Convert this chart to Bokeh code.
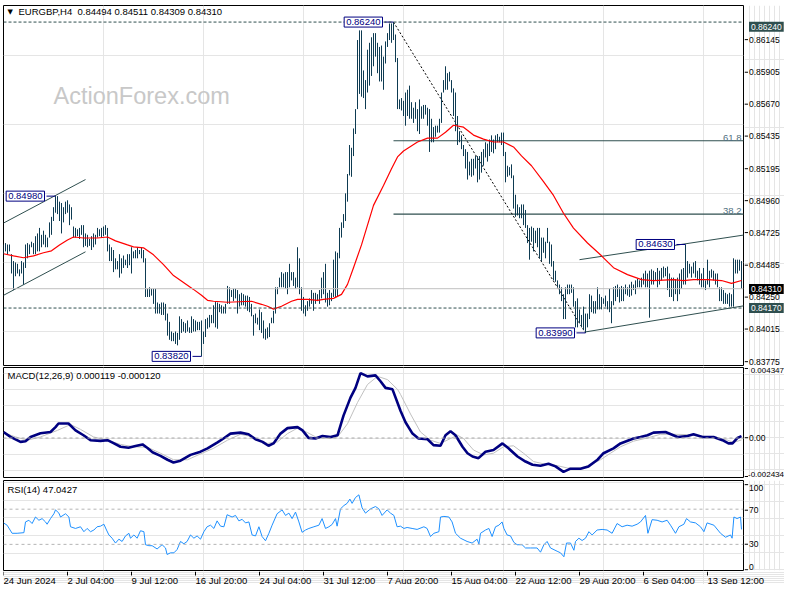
from bokeh.plotting import figure
from bokeh.models import Range1d, Label, Span
from bokeh.layouts import column, row
from bokeh.embed import file_html
from bokeh.resources import INLINE

# ---------------------------------------------------------------- data
symbol = "EURGBP,H4"
last_ohlc = ["0.84494", "0.84511", "0.84309", "0.84310"]
PIP = 0.0001

# H4 bars, high / low in pips (0.0001), bar index 0 = 24 Jun 2024 00:00
bar_high = [
    8463, 8464, 8463, 8463, 8456, 8451, 8450, 8449, 8445, 8451,
    8450, 8463, 8464, 8463, 8465, 8464, 8469, 8471, 8475, 8470,
    8473, 8470, 8468, 8479, 8483, 8490, 8498, 8498, 8494, 8493,
    8490, 8494, 8495, 8492, 8490, 8476, 8475, 8474, 8475, 8477,
    8477, 8471, 8470, 8467, 8469, 8471, 8470, 8475, 8474, 8475,
    8476, 8477, 8475, 8463, 8461, 8459, 8453, 8451, 8456, 8453,
    8455, 8452, 8456, 8456, 8461, 8458, 8459, 8461, 8459, 8461,
    8459, 8453, 8431, 8432, 8431, 8431, 8431, 8421, 8420, 8421,
    8421, 8420, 8413, 8407, 8400, 8399, 8400, 8399, 8411, 8409,
    8407, 8406, 8408, 8403, 8411, 8409, 8408, 8407, 8407, 8408,
    8400, 8409, 8410, 8412, 8412, 8419, 8422, 8421, 8420, 8419,
    8418, 8420, 8433, 8432, 8430, 8431, 8431, 8430, 8427, 8428,
    8427, 8426, 8426, 8425, 8420, 8412, 8413, 8410, 8416, 8414,
    8408, 8402, 8403, 8406, 8410, 8415, 8432, 8432, 8439, 8443,
    8442, 8443, 8443, 8449, 8443, 8443, 8439, 8461, 8453, 8432,
    8425, 8419, 8422, 8424, 8430, 8428, 8428, 8427, 8430, 8439,
    8443, 8449, 8428, 8430, 8428, 8452, 8458, 8457, 8475, 8479,
    8485, 8500, 8514, 8535, 8533, 8547, 8561, 8611, 8618, 8618,
    8589, 8582, 8604, 8609, 8613, 8616, 8616, 8609, 8606, 8607,
    8599, 8610, 8616, 8623, 8623, 8624, 8615, 8598, 8568, 8569,
    8567, 8573, 8575, 8578, 8566, 8562, 8566, 8561, 8568, 8563,
    8564, 8564, 8562, 8561, 8554, 8548, 8549, 8549, 8554, 8573,
    8582, 8592, 8587, 8588, 8582, 8576, 8573, 8556, 8545, 8542,
    8535, 8532, 8530, 8523, 8525, 8525, 8527, 8527, 8527, 8530,
    8532, 8537, 8536, 8539, 8542, 8539, 8542, 8543, 8541, 8544,
    8544, 8530, 8520, 8519, 8521, 8513, 8499, 8492, 8490, 8492,
    8492, 8488, 8477, 8475, 8476, 8475, 8473, 8475, 8475, 8468,
    8468, 8465, 8475, 8465, 8463, 8451, 8444, 8437, 8434, 8432,
    8427, 8432, 8434, 8434, 8434, 8432, 8422, 8424, 8416, 8412,
    8418, 8413, 8413, 8427, 8426, 8422, 8422, 8432, 8427, 8425,
    8424, 8426, 8422, 8431, 8422, 8432, 8433, 8434, 8432, 8433,
    8432, 8434, 8432, 8434, 8436, 8434, 8437, 8438, 8437, 8439,
    8442, 8444, 8442, 8444, 8445, 8444, 8443, 8446, 8444, 8446,
    8447, 8446, 8447, 8442, 8439, 8439, 8438, 8439, 8442, 8445,
    8446, 8463, 8451, 8449, 8447, 8450, 8451, 8444, 8446, 8442,
    8446, 8437, 8452, 8444, 8445, 8444, 8442, 8442, 8432, 8432,
    8430, 8428, 8427, 8428, 8427, 8453, 8452, 8452, 8452, 8451,
]
bar_low = [
    8456, 8458, 8456, 8458, 8442, 8430, 8440, 8442, 8440, 8442,
    8434, 8446, 8453, 8456, 8461, 8456, 8456, 8458, 8458, 8461,
    8463, 8461, 8461, 8468, 8470, 8480, 8486, 8485, 8480, 8471,
    8479, 8485, 8486, 8477, 8481, 8468, 8468, 8469, 8467, 8470,
    8461, 8462, 8461, 8462, 8459, 8461, 8463, 8468, 8469, 8468,
    8469, 8470, 8458, 8451, 8451, 8443, 8445, 8445, 8439, 8442,
    8446, 8448, 8446, 8448, 8442, 8453, 8453, 8453, 8456, 8453,
    8450, 8425, 8425, 8425, 8426, 8420, 8413, 8413, 8413, 8412,
    8412, 8408, 8397, 8394, 8393, 8393, 8391, 8390, 8394, 8399,
    8400, 8399, 8400, 8399, 8399, 8400, 8400, 8401, 8401, 8382,
    8391, 8396, 8402, 8403, 8406, 8406, 8403, 8402, 8414, 8413,
    8413, 8413, 8420, 8420, 8425, 8422, 8424, 8413, 8418, 8419,
    8419, 8418, 8415, 8414, 8411, 8397, 8406, 8405, 8401, 8399,
    8395, 8394, 8395, 8396, 8406, 8406, 8413, 8427, 8432, 8432,
    8432, 8431, 8427, 8432, 8437, 8433, 8431, 8432, 8427, 8415,
    8413, 8411, 8415, 8418, 8420, 8415, 8420, 8422, 8420, 8424,
    8427, 8421, 8418, 8419, 8422, 8425, 8425, 8425, 8453, 8468,
    8475, 8480, 8494, 8513, 8512, 8527, 8543, 8561, 8572, 8570,
    8569, 8561, 8573, 8578, 8585, 8592, 8599, 8587, 8581, 8581,
    8575, 8594, 8606, 8611, 8609, 8611, 8595, 8561, 8561, 8560,
    8556, 8549, 8556, 8554, 8554, 8551, 8554, 8545, 8543, 8554,
    8554, 8557, 8549, 8530, 8537, 8537, 8541, 8544, 8544, 8551,
    8573, 8575, 8575, 8581, 8573, 8556, 8545, 8535, 8537, 8532,
    8527, 8518, 8510, 8513, 8512, 8513, 8518, 8508, 8510, 8515,
    8520, 8526, 8523, 8527, 8530, 8529, 8532, 8537, 8537, 8535,
    8527, 8508, 8512, 8513, 8511, 8489, 8483, 8484, 8482, 8482,
    8477, 8475, 8464, 8452, 8465, 8458, 8464, 8461, 8453, 8451,
    8457, 8453, 8464, 8449, 8447, 8437, 8436, 8432, 8427, 8422,
    8409, 8409, 8427, 8427, 8428, 8418, 8403, 8403, 8406, 8403,
    8401, 8399, 8403, 8409, 8414, 8413, 8413, 8416, 8416, 8416,
    8420, 8418, 8416, 8414, 8406, 8419, 8422, 8425, 8421, 8422,
    8422, 8427, 8426, 8425, 8426, 8430, 8427, 8432, 8432, 8432,
    8434, 8432, 8432, 8410, 8434, 8434, 8437, 8432, 8434, 8437,
    8439, 8440, 8430, 8425, 8425, 8422, 8427, 8422, 8427, 8431,
    8434, 8434, 8439, 8442, 8439, 8442, 8439, 8437, 8434, 8432,
    8432, 8430, 8434, 8432, 8439, 8437, 8434, 8432, 8422, 8422,
    8420, 8420, 8420, 8418, 8418, 8418, 8442, 8442, 8444, 8431,
]

# red moving average, sampled (bar index, pips)
ma_idx = [0, 5, 10, 15, 20, 24, 28, 32, 35, 40, 47, 52, 56, 62, 65, 70, 75, 80,
          85, 90, 95, 99, 102, 105, 112, 124, 129, 132, 135, 139, 144, 147, 152,
          157, 160, 165, 169, 172, 175, 179, 182, 185, 190, 194, 197, 200, 207,
          212, 217, 221, 225, 230, 235, 240, 245, 250, 255, 259, 264, 270, 275,
          280, 285, 292, 299, 305, 312, 319, 325, 335, 340, 345, 352, 359, 364, 369]
ma_pips = [8456.3, 8454.8, 8453.4, 8454.8, 8457.0, 8458.4, 8462.7, 8466.3, 8468.4,
           8467.7, 8467.7, 8468.4, 8465.6, 8462.7, 8461.3, 8460.6, 8455.5, 8448.4,
           8440.5, 8435.5, 8430.5, 8426.2, 8422.6, 8421.9, 8421.2, 8421.9, 8419.7,
           8418.3, 8416.2, 8418.3, 8421.9, 8423.3, 8423.3, 8422.6, 8423.3, 8424.0,
           8426.9, 8434.1, 8446.2, 8462.7, 8477.0, 8491.3, 8505.7, 8517.8, 8526.4,
           8530.7, 8537.2, 8540.0, 8540.0, 8544.3, 8549.3, 8547.9, 8542.2, 8539.3,
           8537.2, 8537.2, 8533.6, 8527.1, 8520.0, 8508.5, 8498.5, 8485.6, 8474.9,
           8464.1, 8454.8, 8446.2, 8441.2, 8437.6, 8436.9, 8437.6, 8436.9, 8437.6,
           8437.6, 8436.9, 8434.8, 8436.9]

# MACD (units of 1e-4)
macd_idx = [0, 3.5, 8.5, 11, 13.5, 18.5, 23.5, 26, 27.5, 32.5, 36, 40, 43.5, 48.5,
            52, 55, 58.5, 62.5, 66, 69.5, 72, 74.5, 78.5, 82, 85, 88.5, 93.5, 98.5,
            102, 107, 110, 113.5, 118.5, 122.5, 126, 129.5, 132.5, 135, 138.5, 142,
            147, 149.5, 152.5, 156, 159.5, 163.5, 167, 170, 173.5, 176, 178.5, 182,
            186, 188.5, 191, 194.5, 198.5, 201, 204.5, 207.5, 212, 215, 218.5, 221,
            223.5, 226, 229.5, 232, 234.5, 237.5, 241, 245, 249.5, 252.5, 257, 261,
            264.5, 268.5, 272.5, 276, 280, 283.5, 288.5, 292.5, 297, 300, 305, 308.5,
            315, 318.5, 322, 325, 331, 337, 342, 345, 349.5, 355, 359.5, 362.5,
            364.5, 367, 369]
macd_e4 = [3.69, 0.67, -2.36, -1.94, 0.67, 2.91, 3.69, 6.72, 8.96, 8.96, 4.72, 1.70,
           -1.33, -1.76, -1.33, -3.15, -5.39, -5.99, -4.96, -3.94, -6.18, -8.78,
           -11.0, -13.4, -15.1, -14.0, -10.4, -8.42, -6.36, -2.72, -0.30, 2.72, 3.33,
           2.30, -0.73, -2.36, -4.78, -3.33, 2.72, 6.11, 6.72, 4.72, 0.06, -0.30, 1.27,
           0.67, 1.70, 13.8, 24.9, 30.9, 40.0, 38.0, 38.6, 35.0, 30.9, 30.0, 16.8,
           9.75, 2.72, -0.30, -0.73, -4.36, -4.78, 1.70, 4.12, 1.70, -5.39, -9.38,
           -11.4, -12.4, -8.42, -7.39, -3.33, -6.36, -11.4, -14.5, -16.5, -17.1,
           -15.9, -17.5, -20.9, -18.9, -18.9, -17.5, -13.4, -9.38, -6.36, -3.33,
           -0.30, 0.67, 1.70, 3.33, 3.69, 0.67, 1.27, 2.30, 0.67, 0.67, -1.33, -3.33,
           -3.33, 0.06, 1.19]
signal_idx = [0, 6, 12, 18.5, 27, 33.5, 38.5, 45, 52, 58.5, 65, 72, 78.5, 85, 92,
              98.5, 105, 112, 118.5, 125, 132, 137, 142, 147, 152, 157, 163.5, 167,
              172, 177, 182, 187, 192, 197, 198.5, 203.5, 208.5, 213.5, 218.5, 223.5,
              227, 230, 235, 240, 245, 250, 255, 260, 265, 270, 275, 282, 288.5,
              293.5, 298.5, 303.5, 308.5, 315, 322, 328.5, 335, 342, 348.5, 355, 362,
              365, 369]
signal_e4 = [3.33, 0.67, -1.33, 0.67, 4.72, 8.35, 5.33, 0.67, -1.33, -3.94, -5.39,
             -5.75, -9.38, -13.4, -13.4, -9.81, -6.36, -1.33, 2.30, 0.67, -3.33, -2.36,
             2.72, 6.11, 3.33, 0.06, -0.30, 0.67, 8.78, 21.9, 33.0, 38.0, 36.0, 30.0,
             26.9, 14.8, 3.69, -1.33, -3.33, -0.30, 1.70, -0.30, -7.39, -10.4, -9.38,
             -5.39, -4.78, -9.38, -14.5, -15.9, -16.5, -18.5, -18.5, -16.5, -13.4,
             -9.38, -5.39, -1.94, 0.06, 2.30, 2.30, 2.12, 1.09, 0.67, -1.33, -2.72,
             -1.20]
macd_title = "MACD(12,26,9) 0.000119 -0.000120"

# RSI(14)
rsi_idx = [0, 1.8, 4.3, 6.8, 10.2, 11, 12.7, 14.3, 16, 17.7, 19.3, 21, 21.8, 23.5,
           25.2, 26, 27.7, 28.5, 31, 32.7, 33.5, 36, 38.5, 40.2, 41.8, 43.5, 45.2,
           46.8, 48.5, 50.2, 51.5, 52.7, 54.3, 56, 57.7, 59.3, 61, 62.7, 63.5, 65.2,
           66.8, 68.5, 70.2, 71, 72.7, 74.3, 76.8, 79.3, 81, 81.8, 83.5, 85.2, 86.8,
           88.5, 90.2, 91.8, 93.5, 95.2, 96.8, 98.5, 100.2, 101.8, 103.5, 105.2,
           106.8, 108.5, 110.2, 111.8, 114.3, 116, 117.7, 119.3, 121, 122.7, 124.3,
           126, 127.7, 129.3, 131, 132.7, 134.3, 136.8, 139.3, 141, 142.7, 144.3,
           146, 147.7, 149.3, 151, 152.7, 155.2, 157.7, 159.3, 161, 162.7, 164.3,
           166, 166.8, 168.5, 170.2, 171.8, 173.2, 174.3, 176, 177.7, 179.3, 181,
           183.5, 186, 187.7, 189.3, 191.8, 193.5, 195.2, 196.8, 198.5, 200.2,
           201.8, 204.3, 206.8, 210.2, 211.8, 213.5, 215.2, 217.7, 218.5, 220.2,
           222.7, 224.3, 226, 228.5, 231.8, 234.3, 236.8, 237.7, 238.5, 241, 242.7,
           244.3, 246, 247.7, 249.3, 250.2, 251.8, 253.5, 255.2, 256.8, 259.3, 261,
           263.5, 266.8, 268.5, 270.2, 271.8, 273.5, 276.8, 278.5, 280.2, 281.5,
           283.5, 285.2, 286, 287.7, 289.3, 291, 292.7, 294.3, 296.8, 299.3, 301.8,
           304.3, 306.8, 309.3, 311.8, 314.3, 316.8, 318.5, 321, 322.2, 324.3,
           326.8, 329.3, 331.8, 333.5, 336, 337.7, 340.2, 341.5, 343.5, 346, 348.5,
           350.2, 351.8, 355.2, 358.5, 361, 363.5, 364.3, 365.2, 366.8, 368.5, 369]
rsi_val = [54.4, 51.8, 42.6, 42.6, 43.3, 55.5, 57.4, 53.7, 61.1, 57.4, 59.3, 55.5,
           52.9, 59.3, 64.8, 69.2, 65.5, 61.1, 64.8, 61.1, 50.0, 48.1, 50.0, 44.4,
           48.1, 44.4, 46.3, 50.0, 50.7, 52.9, 46.3, 40.7, 37.0, 31.5, 35.9, 33.3,
           39.6, 42.6, 37.0, 40.7, 37.0, 45.5, 44.4, 29.6, 28.5, 28.5, 24.8, 29.6,
           25.9, 18.5, 20.4, 20.4, 24.1, 33.3, 30.7, 33.3, 40.7, 37.0, 39.6, 35.9,
           44.4, 50.0, 51.8, 48.1, 56.7, 50.7, 50.0, 63.7, 61.1, 62.9, 56.7, 58.5,
           54.4, 55.5, 40.7, 39.6, 50.0, 38.9, 34.1, 42.6, 51.8, 64.8, 69.2, 62.9,
           65.5, 59.3, 66.7, 55.5, 43.7, 46.3, 48.1, 50.0, 51.8, 59.3, 48.1, 50.0,
           52.6, 59.3, 50.7, 70.4, 74.1, 76.6, 81.5, 76.6, 83.3, 86.3, 71.5, 65.5,
           70.4, 73.0, 70.4, 62.9, 69.2, 65.5, 62.9, 50.0, 50.7, 48.1, 49.2, 48.1,
           47.0, 50.0, 48.1, 38.9, 42.6, 44.4, 61.1, 61.8, 61.1, 55.5, 42.6, 37.0,
           33.3, 31.5, 35.9, 30.4, 42.6, 46.3, 48.1, 38.9, 50.0, 51.8, 55.5, 48.1,
           40.7, 39.6, 32.2, 29.6, 29.6, 25.9, 25.9, 25.9, 21.1, 29.6, 33.3, 25.9,
           22.2, 20.4, 15.9, 31.5, 31.5, 23.3, 33.3, 37.0, 34.4, 37.0, 44.4, 40.7,
           46.3, 47.0, 46.3, 42.6, 53.7, 50.0, 51.8, 50.7, 52.9, 55.5, 62.9, 42.6,
           58.1, 57.4, 55.5, 57.4, 51.8, 42.6, 50.0, 52.9, 59.3, 55.5, 54.4, 50.0,
           44.4, 54.4, 51.8, 42.6, 38.1, 40.7, 37.0, 61.1, 59.3, 61.1, 47.0]
rsi_title = "RSI(14) 47.0427"

# time axis
date_idx = [0, 32, 64, 96, 128, 160, 192, 224, 256, 288, 320, 352]
date_labels = ["24 Jun 2024", "2 Jul 04:00", "9 Jul 12:00", "16 Jul 20:00",
               "24 Jul 04:00", "31 Jul 12:00", "7 Aug 20:00", "15 Aug 04:00",
               "22 Aug 12:00", "29 Aug 20:00", "6 Sep 04:00", "13 Sep 12:00"]

# price scale
price_ticks = [0.86145, 0.85905, 0.85670, 0.85435, 0.85195, 0.84960,
               0.84725, 0.84485, 0.84250, 0.84015, 0.83775]
macd_ticks = [0.004347, 0.0, -0.002434]
macd_tick_labels = ["0.004347", "0.00", "-0.002434"]
rsi_ticks = [100, 70, 30, 0]

# marked swing points
swing_idx = [26, 99, 195, 291, 341]
swing_price = [0.84980, 0.83820, 0.86240, 0.83990, 0.84630]

level_high = 0.86240
level_low = 0.84170
last_price = 0.84310

fib_start_idx = 195
fib_levels = [0.85381, 0.84850]
fib_names = ["61.8", "38.2"]

# trend lines: (bar indices, prices)
chan1_upper = ([0, 41], [0.84785, 0.85100])
chan1_lower = ([0, 41], [0.84262, 0.84577])
chan2_upper = ([288, 376], [0.84520, 0.84711])
chan2_lower = ([291, 376], [0.83997, 0.84200])
down_line = ([195, 291], [0.86240, 0.83990])

# ---------------------------------------------------------------- style
TOTAL_W = 784
LEFT = 3
FW = 740                      # frame width: 2 px per bar
PW = LEFT + FW + 1            # width of each panel figure
AW = TOTAL_W - PW             # width of the right price-scale strip
FONT = "Liberation Sans"
FS = "9.5px"
AXFS = "8.5px"
AXX = 4.5
BAR = "#0e3b52"
SLATE = "#2f4f4f"
NAVY = "#000080"

xr = Range1d(0, FW / 2)


def make_fig(top, fh, bottom, y0, y1):
    return figure(width=PW, height=top + fh + bottom, x_range=xr,
                  y_range=Range1d(y0, y1), title=None,
                  x_axis_location=None, y_axis_location=None,
                  output_backend="svg", toolbar_location=None,
                  min_border_left=LEFT, min_border_right=1,
                  min_border_top=top, min_border_bottom=bottom,
                  background_fill_color="white", border_fill_color="white",
                  outline_line_color="black", outline_line_width=1)


def make_strip(top, fh, bottom, y0, y1):
    s = (y1 - y0) / fh
    return figure(width=AW, height=top + fh + bottom, x_range=Range1d(0, AW),
                  y_range=Range1d(y0 - bottom * s, y1 + top * s), title=None,
                  x_axis_location=None, y_axis_location=None,
                  output_backend="svg", toolbar_location=None,
                  min_border_left=0, min_border_right=0,
                  min_border_top=0, min_border_bottom=0,
                  background_fill_color="white", border_fill_color="white",
                  outline_line_color=None)


def txt(p, x, y, text, xu="screen", yu="data", align="left", base="middle",
        size=FS, color="black", font=FONT, **kw):
    p.add_layout(Label(x=x, y=y, x_units=xu, y_units=yu, text=text,
                       text_align=align, text_baseline=base, text_font=font,
                       text_font_size=size, text_color=color, **kw))


def scale_ticks(a, ticks):
    a.segment(x0=[0] * len(ticks), x1=[3.5] * len(ticks), y0=ticks, y1=ticks,
              line_color="black", line_width=1)


# ---------------------------------------------------------------- main panel
T1, FH1, B1 = 5, 360, 1
Y1 = (0.83754, 0.86360)
p1 = make_fig(T1, FH1, B1, *Y1)
a1 = make_strip(T1, FH1, B1, *Y1)

txt(p1, 50, FH1 - 90, "ActionForex.com", yu="screen", size="23.5px",
    color="#c8c8c8", level="underlay")
txt(p1, 4, FH1 - 6, "\u25bc", yu="screen", size="7px", font="DejaVu Sans")
txt(p1, 15, FH1 - 6, symbol, yu="screen")
txt(p1, 74, FH1 - 6, " ".join(last_ohlc), yu="screen")

p1.add_layout(Span(location=level_high, dimension="width", line_color=SLATE,
                   line_dash="3 2", line_width=1))
p1.add_layout(Span(location=level_low, dimension="width", line_color=SLATE,
                   line_dash="3 2", line_width=1))
p1.add_layout(Span(location=last_price, dimension="width", line_color="#c0c0c0",
                   line_width=1))

for lvl, name in zip(fib_levels, fib_names):
    p1.segment(x0=[fib_start_idx], x1=[400], y0=[lvl], y1=[lvl],
               line_color=SLATE, line_width=1.2)
    txt(p1, FW - 2, lvl, name, align="right", base="bottom", color="#4f6f80")

for xs, ys in (chan1_upper, chan1_lower, chan2_upper, chan2_lower):
    p1.line(xs, ys, line_color=SLATE, line_width=1)
p1.line(down_line[0], down_line[1], line_color="black", line_dash="2 2",
        line_width=1)

idx = list(range(len(bar_high)))
p1.segment(x0=idx, x1=idx, y0=[v * PIP for v in bar_low],
           y1=[v * PIP for v in bar_high], line_color=BAR, line_width=1)
p1.line(ma_idx, [v * PIP for v in ma_pips], line_color="red", line_width=1.2)

GAP = 4.5
for i, pr in zip(swing_idx, swing_price):
    p1.segment(x0=[i - GAP], x1=[i], y0=[pr], y1=[pr], line_color=NAVY,
               line_width=1)
    txt(p1, i - GAP, pr, f"{pr:.5f}", xu="data", align="right", color=NAVY,
        x_offset=-2, padding=2, background_fill_color="white",
        border_line_color=NAVY, border_line_width=1)

scale_ticks(a1, price_ticks)
for t in price_ticks:
    txt(a1, AXX, t, f"{t:.5f}", xu="data", size=AXFS)
for lv, bg in ((level_high, SLATE), (last_price, "black"), (level_low, SLATE)):
    txt(a1, AXX, lv, f"{lv:.5f}", xu="data", size=AXFS, color="white",
        padding=2, background_fill_color=bg)

# ---------------------------------------------------------------- MACD panel
T2, FH2, B2 = 1, 110, 1
Y2 = (macd_ticks[2], macd_ticks[0])
p2 = make_fig(T2, FH2, B2, *Y2)
a2 = make_strip(T2, FH2, B2, *Y2)
p2.add_layout(Span(location=0, dimension="width", line_color="#a8a8a8",
                   line_dash="3 3", line_width=1))
p2.line(signal_idx, [v * 1e-4 for v in signal_e4], line_color="#c0c0c0",
        line_width=1)
p2.line(macd_idx, [v * 1e-4 for v in macd_e4], line_color=NAVY, line_width=2.6)
txt(p2, 4, FH2 - 8, macd_title, yu="screen")
scale_ticks(a2, macd_ticks)
for t, lab, base in zip(macd_ticks, macd_tick_labels, ("top", "middle", "bottom")):
    if len(lab) > 4:
        txt(a2, AW - 0.5, t, lab, xu="data", size="8px", base=base,
            align="right")
    else:
        txt(a2, AXX, t, lab, xu="data", size=AXFS, base=base)

# ---------------------------------------------------------------- RSI panel
T3, FH3, B3 = 2, 90, 1
Y3 = (0.3, 102.6)
p3 = make_fig(T3, FH3, B3, *Y3)
a3 = make_strip(T3, FH3, B3, *Y3)
for lv in (70, 30):
    p3.add_layout(Span(location=lv, dimension="width", line_color="#b4b4b4",
                       line_dash="3 3", line_width=1))
p3.line(rsi_idx, rsi_val, line_color="#1e90ff", line_width=1)
txt(p3, 4, FH3 - 9, rsi_title, yu="screen")
scale_ticks(a3, rsi_ticks)
for t, base in zip(rsi_ticks, ("top", "middle", "middle", "bottom")):
    txt(a3, AXX, t, str(t), xu="data", size=AXFS, base=base)

# ---------------------------------------------------------------- time strip
DH = 584 - (T1 + FH1 + B1) - (T2 + FH2 + B2) - (T3 + FH3 + B3)
p4 = figure(width=TOTAL_W, height=DH, title=None,
            x_range=Range1d(0, (TOTAL_W - LEFT) / 2),
            y_range=Range1d(0, DH), x_axis_location=None, y_axis_location=None,
            output_backend="svg", toolbar_location=None,
            min_border_left=LEFT, min_border_right=0,
            min_border_top=0, min_border_bottom=0,
            background_fill_color="white", border_fill_color="white",
            outline_line_color=None)
p4.segment(x0=date_idx, x1=date_idx, y0=[DH] * len(date_idx),
           y1=[DH - 4] * len(date_idx), line_color="black", line_width=1)
for i, lab in zip(date_idx, date_labels):
    txt(p4, i, DH - 8.5, lab, xu="data")

layout = column(row(p1, a1), row(p2, a2), row(p3, a3), p4)
open("out.html", "w").write(file_html(layout, INLINE, title="EURGBP H4"))
